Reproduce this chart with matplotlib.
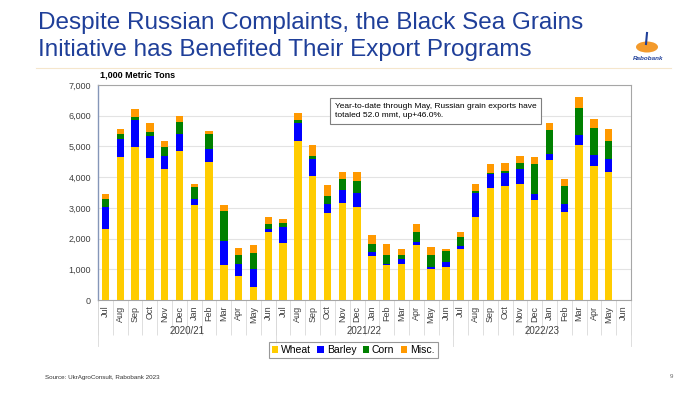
import numpy as np
import matplotlib
matplotlib.use("Agg")
import matplotlib.pyplot as plt
from matplotlib.patches import Ellipse
import matplotlib.transforms as mtransforms

# Russian grain exports, 1,000 metric tons, Jul 2020 .. Jun 2023
months = ["Jul", "Aug", "Sep", "Oct", "Nov", "Dec",
          "Jan", "Feb", "Mar", "Apr", "May", "Jun"] * 3
seasons = ["2020/21", "2021/22", "2022/23"]

wheat = [2320, 4650, 4990, 4620, 4280, 4850, 3080, 4490, 1150, 780, 430, 2230,
         1850, 5190, 4040, 2830, 3170, 3040, 1430, 1130, 1170, 1800, 1000, 1060,
         1660, 2690, 3650, 3710, 3770, 3260, 4560, 2860, 5050, 4370, 4170, 0]
barley = [710, 600, 880, 720, 410, 550, 210, 430, 770, 400, 570, 70,
          520, 570, 550, 280, 420, 450, 120, 50, 180, 100, 90, 180,
          100, 790, 460, 420, 510, 200, 200, 280, 310, 360, 420, 0]
corn = [250, 140, 90, 140, 300, 400, 400, 480, 970, 280, 540, 190,
        150, 90, 90, 260, 340, 390, 280, 300, 110, 330, 390, 370,
        290, 80, 40, 80, 180, 960, 770, 580, 880, 860, 600, 0]
misc = [180, 180, 260, 270, 190, 180, 100, 90, 210, 220, 260, 220,
        120, 240, 360, 380, 250, 300, 280, 340, 190, 240, 240, 50,
        160, 220, 280, 240, 230, 240, 230, 210, 360, 310, 380, 0]

series = [("Wheat", wheat, "#FFCC00"),
          ("Barley", barley, "#0000FF"),
          ("Corn", corn, "#008000"),
          ("Misc.", misc, "#FF9900")]

plt.rcParams['font.family'] = ['Liberation Sans', 'DejaVu Sans']

fig = plt.figure(figsize=(7, 3.94), dpi=100)
ax = fig.add_axes([98 / 700, 1 - 300 / 394, 533 / 700, 215 / 394])

x = np.arange(len(months))
bottom = np.zeros(len(months))
for name, vals, col in series:
    vals = np.array(vals, dtype=float)
    ax.bar(x, vals, width=0.5, bottom=bottom, color=col, label=name,
           edgecolor="none", zorder=3)
    bottom += vals

ax.set_xlim(-0.5, len(months) - 0.5)
ax.set_ylim(0, 7000)
ax.set_yticks(np.arange(0, 7001, 1000))
ax.set_yticklabels([f"{v:,}" for v in range(0, 7001, 1000)])
ax.yaxis.grid(True, color="#E3E3E3", linewidth=0.8, zorder=0)
ax.tick_params(axis="y", length=0, labelsize=6.5, labelcolor="#404040", pad=5)

ax.set_xticks(x)
ax.set_xticklabels(months, rotation=90, fontsize=6.5, color="#404040")
ax.tick_params(axis="x", which="major", length=0, pad=4)
ax.set_xticks(np.arange(-0.5, len(months), 1.0), minor=True)
ax.tick_params(axis="x", which="minor", length=25, color="#D9D9D9", width=0.6)

for s in ["top", "right", "bottom"]:
    ax.spines[s].set_color("#A6A6A6")
    ax.spines[s].set_linewidth(0.8)
ax.spines["left"].set_color("#8596B8")
ax.spines["left"].set_linewidth(1.0)

# season group labels and separators
trans = mtransforms.blended_transform_factory(ax.transData, ax.transAxes)
for i, season in enumerate(seasons):
    ax.text(i * 12 + 5.5, -0.145, season, transform=trans, ha="center",
            va="center", fontsize=7, color="#404040")
for b in [-0.5, 11.5, 23.5, 35.5]:
    ax.plot([b, b], [0, -0.215], transform=trans, color="#D9D9D9",
            linewidth=0.6, clip_on=False)

fig.text(100 / 700, 1 - 75 / 394, "1,000 Metric Tons", fontsize=6.5,
         fontweight="bold", va="center", ha="left")

ax.text(0.444, 0.88, "Year-to-date through May, Russian grain exports have\n"
        "totaled 52.0 mmt, up+46.0%.", transform=ax.transAxes, fontsize=6,
        va="center", ha="left", linespacing=1.4,
        bbox=dict(boxstyle="square,pad=0.6", facecolor="white",
                  edgecolor="#7F7F7F", linewidth=0.8), zorder=5)

leg = fig.legend(loc="center", bbox_to_anchor=(353 / 700, 1 - 350 / 394),
                 ncol=4, fontsize=7.5, frameon=True, fancybox=False,
                 handlelength=0.6, handleheight=0.6, handletextpad=0.3,
                 columnspacing=0.6, borderpad=0.3)
leg.get_frame().set_edgecolor("#7F7F7F")
leg.get_frame().set_linewidth(0.8)

# title and header
fig.text(38 / 700, 1 - 23 / 394, "Despite Russian Complaints, the Black Sea Grains",
         fontsize=17.5, color="#1F3F99", va="center", ha="left")
fig.text(38 / 700, 1 - 50 / 394, "Initiative has Benefited Their Export Programs",
         fontsize=17.5, color="#1F3F99", va="center", ha="left")
fig.add_artist(plt.Line2D([36 / 700, 671 / 700], [1 - 68 / 394, 1 - 68 / 394],
                          color="#F5E6CC", linewidth=0.8))

# simple Rabobank mark
fig.add_artist(Ellipse((647 / 700, 1 - 47 / 394), 22 / 700, 11 / 394,
                       facecolor="#F39A2C", edgecolor="none"))
fig.add_artist(plt.Line2D([646 / 700, 647 / 700], [1 - 44 / 394, 1 - 33 / 394],
                          color="#1F3F99", linewidth=1.5))
fig.text(648 / 700, 1 - 59 / 394, "Rabobank", fontsize=4.5, color="#1F3F99",
         fontweight="bold", style="italic", ha="center", va="center")

fig.text(45 / 700, 1 - 377 / 394, "Source: UkrAgroConsult, Rabobank 2023",
         fontsize=4.5, color="#333333", va="center", ha="left")
fig.text(671 / 700, 1 - 377 / 394, "9", fontsize=4.5, color="#666666",
         va="center", ha="center")

fig.savefig("out.png", dpi=100)
